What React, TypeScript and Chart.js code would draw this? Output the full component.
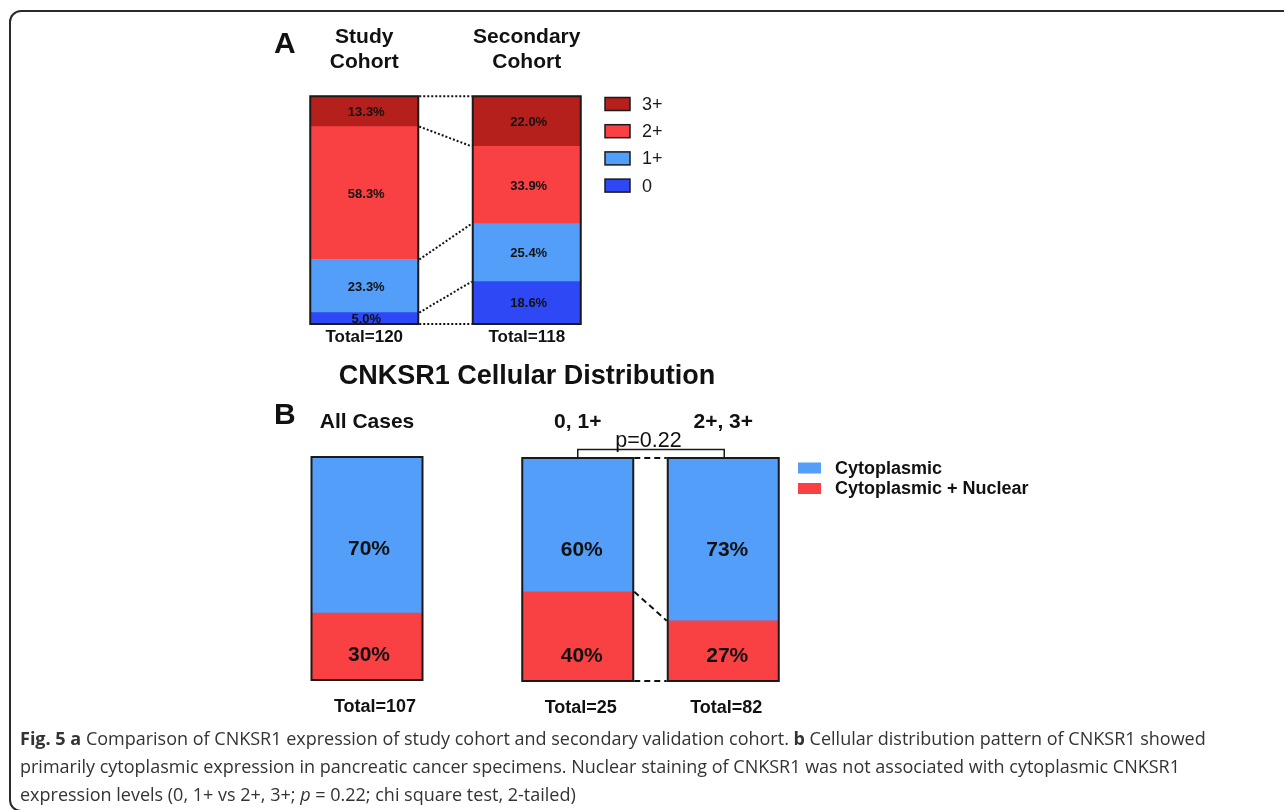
import React, { useEffect, useRef } from "react";
import { Chart, registerables } from "chart.js";
Chart.register(...registerables);

const FONT = '"Liberation Sans", Arial, Helvetica, sans-serif';
const PAGE_W = 1284;
const PAGE_H = 810;

// ---------- Panel A data ----------
const cohortNames = ["Study Cohort", "Secondary Cohort"];
const cohortTotals = ["Total=120", "Total=118"];
const expressionLevels = ["0", "1+", "2+", "3+"]; // bottom to top
const level0 = [5.0, 18.6];
const level1 = [23.3, 25.4];
const level2 = [58.3, 33.9];
const level3 = [13.3, 22.0];

// ---------- Panel B data ----------
const distributionTypes = ["Cytoplasmic + Nuclear", "Cytoplasmic"]; // bottom to top
const allCasesName = ["All Cases"];
const allCasesTotal = ["Total=107"];
const allCasesNuclear = [30];
const allCasesCytoplasmic = [70];
const groupNames = ["0, 1+", "2+, 3+"];
const groupTotals = ["Total=25", "Total=82"];
const groupNuclear = [40, 27];
const groupCytoplasmic = [60, 73];
const pValueText = "p=0.22";
const panelBTitle = "CNKSR1 Cellular Distribution";

const COL_L3 = "#b5201c";
const COL_L2 = "#f94144";
const COL_L1 = "#529ef9";
const COL_L0 = "#2f48f6";
const LEVEL_COLORS = [COL_L0, COL_L1, COL_L2, COL_L3];
const DIST_COLORS = [COL_L2, COL_L1];

type Geom = { x: number; w: number; left: number; right: number; top: number; bottom: number };

function barGeoms(chart: any): Geom[] {
  const n = chart.data.datasets.length;
  const bottomEls = chart.getDatasetMeta(0).data;
  const topEls = chart.getDatasetMeta(n - 1).data;
  return bottomEls.map((el: any, i: number) => {
    const t: any = topEls[i];
    return {
      x: el.x,
      w: el.width,
      left: el.x - el.width / 2,
      right: el.x + el.width / 2,
      top: t.y,
      bottom: el.base,
    };
  });
}

function boundaries(chart: any, i: number): number[] {
  const y = chart.scales.y;
  const out = [y.getPixelForValue(0)];
  let cum = 0;
  chart.data.datasets.forEach((ds: any) => {
    cum += ds.data[i];
    out.push(y.getPixelForValue(cum));
  });
  return out;
}

function drawOutlines(ctx: CanvasRenderingContext2D, geoms: Geom[]) {
  ctx.save();
  ctx.strokeStyle = "#1a1a1a";
  ctx.lineWidth = 2;
  ctx.setLineDash([]);
  geoms.forEach((g) => ctx.strokeRect(g.left, g.top, g.w, g.bottom - g.top));
  ctx.restore();
}

function drawConnectors(ctx: CanvasRenderingContext2D, chart: any, geoms: Geom[], dash: number[], lw: number) {
  const a = boundaries(chart, 0);
  const b = boundaries(chart, 1);
  ctx.save();
  ctx.setLineDash(dash);
  ctx.lineWidth = lw;
  ctx.strokeStyle = "#111";
  a.forEach((ya, k) => {
    ctx.beginPath();
    ctx.moveTo(geoms[0].right + 1, ya);
    ctx.lineTo(geoms[1].left - 1, b[k]);
    ctx.stroke();
  });
  ctx.restore();
}

function txt(
  ctx: CanvasRenderingContext2D,
  s: string,
  x: number,
  y: number,
  font: string,
  align: CanvasTextAlign = "center",
  baseline: CanvasTextBaseline = "alphabetic",
  color = "#111"
) {
  ctx.save();
  ctx.font = font;
  ctx.textAlign = align;
  ctx.textBaseline = baseline;
  ctx.fillStyle = color;
  ctx.fillText(s, x, y);
  ctx.restore();
}

const panelAPlugin = {
  id: "panelA",
  afterDatasetsDraw(chart: any) {
    const ctx: CanvasRenderingContext2D = chart.ctx;
    const geoms = barGeoms(chart);
    drawConnectors(ctx, chart, geoms, [2, 2], 2);
    drawOutlines(ctx, geoms);
    // segment labels
    chart.data.datasets.forEach((ds: any, d: number) => {
      chart.getDatasetMeta(d).data.forEach((el: any, i: number) => {
        const mid = (el.y + el.base) / 2;
        txt(ctx, ds.data[i].toFixed(1) + "%", el.x + 2, mid + 1, "bold 13px " + FONT, "center", "middle");
      });
    });
    // headers and totals
    geoms.forEach((g, i) => {
      const parts = cohortNames[i].split(" ");
      txt(ctx, parts[0], g.x, 43, "bold 21px " + FONT);
      txt(ctx, parts[1], g.x, 68, "bold 21px " + FONT);
      txt(ctx, cohortTotals[i], g.x, 342, "bold 17px " + FONT);
    });
    txt(ctx, "A", 274, 53, "bold 30px " + FONT, "left");
    // legend (top = last dataset)
    const n = chart.data.datasets.length;
    for (let k = 0; k < n; k++) {
      const d = n - 1 - k;
      const cy = 104 + k * 27.2;
      ctx.save();
      ctx.fillStyle = chart.data.datasets[d].backgroundColor;
      ctx.fillRect(605, cy - 6.5, 25, 13);
      ctx.strokeStyle = "#1a1a1a";
      ctx.lineWidth = 1.5;
      ctx.strokeRect(605, cy - 6.5, 25, 13);
      ctx.restore();
      txt(ctx, chart.data.datasets[d].label, 642, cy + 1, "18px " + FONT, "left", "middle", "#1a1a1a");
    }
  },
};

function drawSegmentLabelsB(ctx: CanvasRenderingContext2D, chart: any, dx: number) {
  const y = chart.scales.y;
  const labelVals = [11.2, 58.7];
  chart.data.datasets.forEach((ds: any, d: number) => {
    chart.getDatasetMeta(d).data.forEach((el: any, i: number) => {
      txt(ctx, ds.data[i] + "%", el.x + dx, y.getPixelForValue(labelVals[d]), "bold 21px " + FONT, "center", "middle");
    });
  });
}

const panelB1Plugin = {
  id: "panelB1",
  afterDatasetsDraw(chart: any) {
    const ctx: CanvasRenderingContext2D = chart.ctx;
    const geoms = barGeoms(chart);
    drawOutlines(ctx, geoms);
    drawSegmentLabelsB(ctx, chart, 2);
    geoms.forEach((g, i) => {
      txt(ctx, allCasesName[i], g.x, 428, "bold 21px " + FONT);
      txt(ctx, allCasesTotal[i], g.x + 8, 712, "bold 18px " + FONT);
    });
    txt(ctx, "B", 274, 424, "bold 30px " + FONT, "left");
    txt(ctx, panelBTitle, 527, 384, "bold 27px " + FONT);
    // legend (top = last dataset)
    const n = chart.data.datasets.length;
    for (let k = 0; k < n; k++) {
      const d = n - 1 - k;
      const cy = 468 + k * 20.5;
      ctx.save();
      ctx.fillStyle = chart.data.datasets[d].backgroundColor;
      ctx.fillRect(798, cy - 5.5, 23, 11);
      ctx.restore();
      txt(ctx, chart.data.datasets[d].label, 835, cy + 1, "bold 18px " + FONT, "left", "middle", "#111");
    }
  },
};

const panelB2Plugin = {
  id: "panelB2",
  afterDatasetsDraw(chart: any) {
    const ctx: CanvasRenderingContext2D = chart.ctx;
    const geoms = barGeoms(chart);
    drawConnectors(ctx, chart, geoms, [6, 4], 2);
    drawOutlines(ctx, geoms);
    drawSegmentLabelsB(ctx, chart, 4);
    geoms.forEach((g, i) => {
      txt(ctx, groupNames[i], g.x, 428, "bold 21px " + FONT);
      txt(ctx, groupTotals[i], g.x + 3, 713, "bold 18px " + FONT);
    });
    // significance bracket
    const topY = Math.min(geoms[0].top, geoms[1].top);
    const bracketY = topY - 8.5;
    ctx.save();
    ctx.strokeStyle = "#1a1a1a";
    ctx.lineWidth = 1.5;
    ctx.beginPath();
    ctx.moveTo(geoms[0].x, geoms[0].top);
    ctx.lineTo(geoms[0].x, bracketY);
    ctx.lineTo(geoms[1].x + 1, bracketY);
    ctx.lineTo(geoms[1].x + 1, geoms[1].top);
    ctx.stroke();
    ctx.restore();
    txt(ctx, pValueText, (geoms[0].x + geoms[1].x) / 2 - 2, bracketY - 3, "21.5px " + FONT, "center", "alphabetic", "#111");
  },
};

function barConfig(labels: string[], datasets: any[], pad: any, plugin: any) {
  return {
    type: "bar" as const,
    data: { labels, datasets },
    options: {
      animation: false as const,
      responsive: false,
      maintainAspectRatio: false,
      events: [],
      layout: { padding: pad },
      plugins: {
        legend: { display: false },
        tooltip: { enabled: false },
        title: { display: false },
      },
      scales: {
        x: { display: false, stacked: true, offset: true },
        y: { display: false, stacked: true, min: 0, max: 100 },
      },
    },
    plugins: [plugin],
  };
}

export default function App() {
  const refA = useRef<HTMLCanvasElement>(null);
  const refB1 = useRef<HTMLCanvasElement>(null);
  const refB2 = useRef<HTMLCanvasElement>(null);

  useEffect(() => {
    const levelData = [level0, level1, level2, level3];
    const dsA = levelData.map((data, i) => ({
      label: expressionLevels[i],
      data,
      backgroundColor: LEVEL_COLORS[i],
      borderWidth: 0,
      barThickness: 108,
    }));
    const dsB1 = [allCasesNuclear, allCasesCytoplasmic].map((data, i) => ({
      label: distributionTypes[i],
      data,
      backgroundColor: DIST_COLORS[i],
      borderWidth: 0,
      barThickness: 111,
    }));
    const dsB2 = [groupNuclear, groupCytoplasmic].map((data, i) => ({
      label: distributionTypes[i],
      data,
      backgroundColor: DIST_COLORS[i],
      borderWidth: 0,
      barThickness: 111,
    }));
    const charts = [
      new Chart(
        refA.current as HTMLCanvasElement,
        barConfig(cohortNames, dsA, { left: 283, right: PAGE_W - 608, top: 96, bottom: PAGE_H - 324 }, panelAPlugin) as any
      ),
      new Chart(
        refB1.current as HTMLCanvasElement,
        barConfig(allCasesName, dsB1, { left: 307, right: PAGE_W - 427, top: 457, bottom: PAGE_H - 680 }, panelB1Plugin) as any
      ),
      new Chart(
        refB2.current as HTMLCanvasElement,
        barConfig(groupNames, dsB2, { left: 505, right: PAGE_W - 796, top: 458, bottom: PAGE_H - 681 }, panelB2Plugin) as any
      ),
    ];
    return () => charts.forEach((c) => c.destroy());
  }, []);

  const canvasStyle: React.CSSProperties = { position: "absolute", left: 0, top: 0 };

  return (
    <div
      style={{
        position: "fixed",
        left: 0,
        top: 0,
        width: PAGE_W,
        height: PAGE_H,
        overflow: "hidden",
        background: "#fff",
      }}
    >
      <div
        style={{
          position: "absolute",
          left: 9,
          top: 10,
          width: 1400,
          height: 802,
          border: "2px solid #2a2a2a",
          borderRadius: 12,
          boxSizing: "border-box",
        }}
      />
      <canvas ref={refA} width={PAGE_W} height={PAGE_H} style={canvasStyle} />
      <canvas ref={refB1} width={PAGE_W} height={PAGE_H} style={canvasStyle} />
      <canvas ref={refB2} width={PAGE_W} height={PAGE_H} style={canvasStyle} />
      <div
        style={{
          position: "absolute",
          left: 20,
          top: 724,
          fontFamily: '"Open Sans", "Noto Sans", sans-serif',
          fontSize: 18,
          lineHeight: "28px",
          color: "#333",
          whiteSpace: "nowrap",
        }}
      >
        <b>Fig. 5 a</b> Comparison of CNKSR1 expression of study cohort and secondary validation cohort. <b>b</b> Cellular
        distribution pattern of CNKSR1 showed
        <br />
        primarily cytoplasmic expression in pancreatic cancer specimens. Nuclear staining of CNKSR1 was not associated with
        cytoplasmic CNKSR1
        <br />
        expression levels (0, 1+ vs 2+, 3+; <i>p</i> = 0.22; chi square test, 2-tailed)
      </div>
    </div>
  );
}
